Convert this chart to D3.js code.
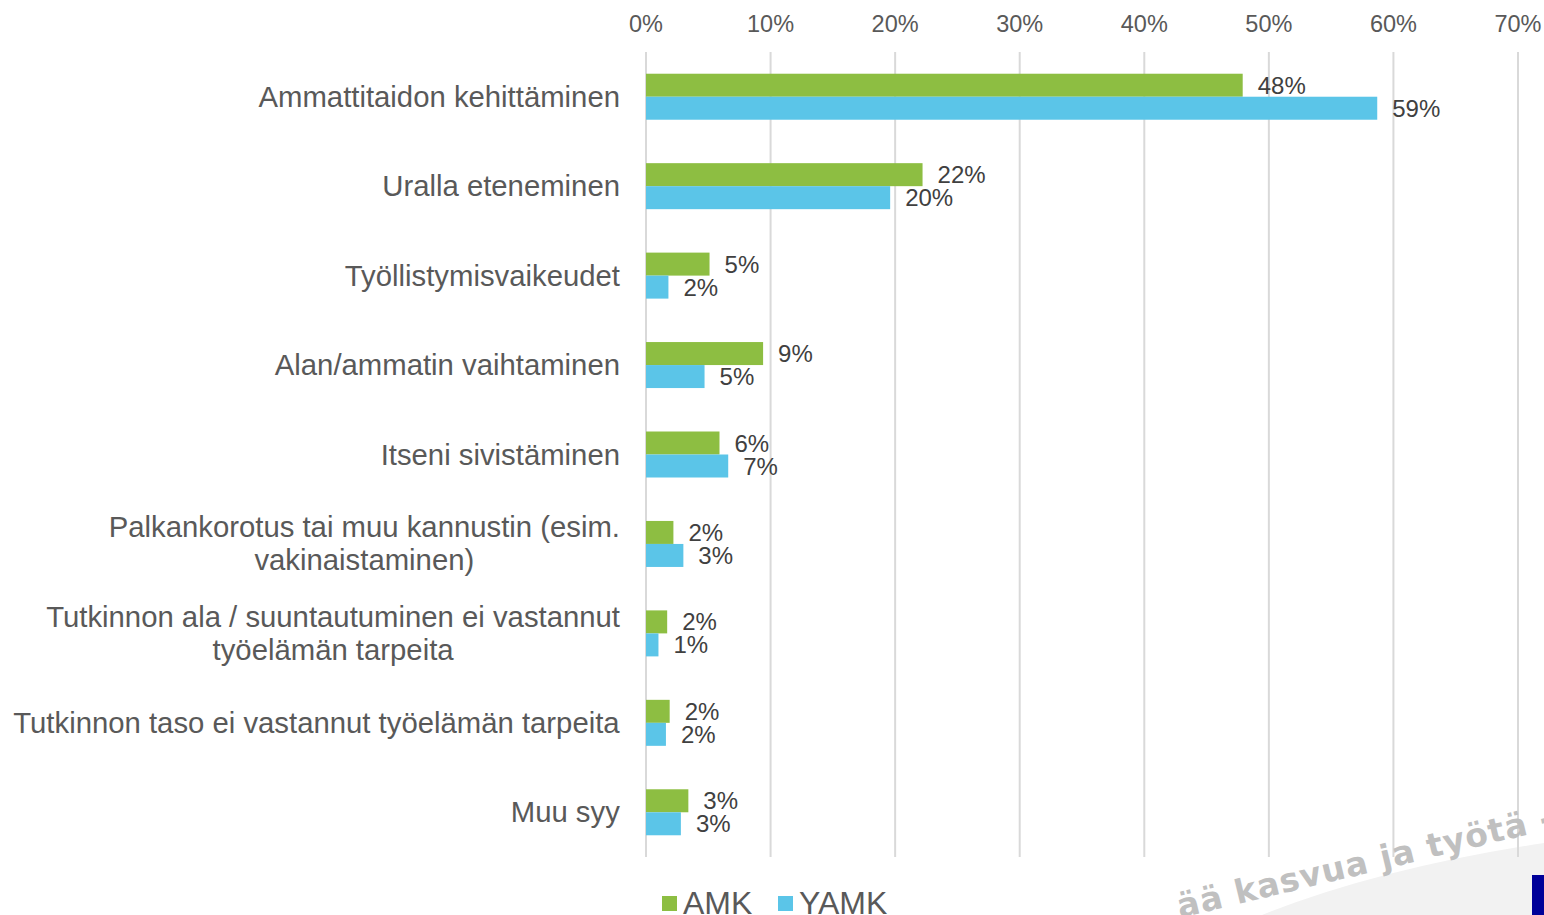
<!DOCTYPE html>
<html>
<head>
<meta charset="utf-8">
<script src="https://cdn.jsdelivr.net/npm/d3@7"></script>
<style>
body { margin: 0; background: #fff; }
svg { display: block; font-family: "Liberation Sans", Arial, sans-serif; }
</style>
</head>
<body>
<div id="chartDiv"></div>
<script>
var categories = [
    ["Ammattitaidon kehittäminen"],
    ["Uralla eteneminen"],
    ["Työllistymisvaikeudet"],
    ["Alan/ammatin vaihtaminen"],
    ["Itseni sivistäminen"],
    ["Palkankorotus tai muu kannustin (esim.", "vakinaistaminen)"],
    ["Tutkinnon ala / suuntautuminen ei vastannut", "työelämän tarpeita"],
    ["Tutkinnon taso ei vastannut työelämän tarpeita"],
    ["Muu syy"]
];
var amk  = [47.9, 22.2, 5.1, 9.4, 5.9, 2.2, 1.7, 1.9, 3.4];
var yamk = [58.7, 19.6, 1.8, 4.7, 6.6, 3.0, 1.0, 1.6, 2.8];
var ticks = [0, 10, 20, 30, 40, 50, 60, 70];
var seriesNames = ["AMK", "YAMK"];
var colors = ["#8dbe42", "#5bc5e8"];

var width = 1544, height = 915;

var svg = d3.select("#chartDiv").append("svg")
    .attr("width", width)
    .attr("height", height);

// background decoration (bottom right)
svg.append("path")
    .attr("d", "M1262,915 Q1380,868 1544,843 L1544,915 Z")
    .attr("fill", "#f2f2f2");

var x = d3.scaleLinear().domain([0, 70]).range([646, 1518]);
var y = d3.scaleBand().domain(d3.range(categories.length)).range([52, 857]);
var barH = 23;

// gridlines
svg.append("g").selectAll("line")
    .data(ticks)
    .enter().append("line")
    .attr("x1", function (d) { return x(d); })
    .attr("x2", function (d) { return x(d); })
    .attr("y1", 52)
    .attr("y2", 857)
    .attr("stroke", "#d9d9d9")
    .attr("stroke-width", 2);

// tick labels
svg.append("g").selectAll("text")
    .data(ticks)
    .enter().append("text")
    .attr("x", function (d) { return x(d); })
    .attr("y", 32)
    .attr("text-anchor", "middle")
    .attr("font-size", 23.5)
    .attr("fill", "#595959")
    .text(function (d) { return d + "%"; });

// watermark text
svg.append("text")
    .attr("transform", "translate(1180,918) rotate(-13.5)")
    .attr("font-size", 33)
    .attr("font-weight", "bold")
    .attr("font-family", "DejaVu Sans")
    .attr("letter-spacing", 1)
    .attr("fill", "#c0c0c0")
    .text("ää kasvua ja työtä -");

svg.append("rect")
    .attr("x", 1532).attr("y", 875)
    .attr("width", 12).attr("height", 40)
    .attr("fill", "#000099");

var series = [amk, yamk];
series.forEach(function (vals, s) {
    var g = svg.append("g");
    g.selectAll("rect")
        .data(vals)
        .enter().append("rect")
        .attr("x", x(0))
        .attr("y", function (d, i) { return y(i) + y.bandwidth() / 2 - barH + s * barH; })
        .attr("width", function (d) { return x(d) - x(0); })
        .attr("height", barH)
        .attr("fill", colors[s]);
    g.selectAll("text")
        .data(vals)
        .enter().append("text")
        .attr("x", function (d) { return x(d) + 15; })
        .attr("y", function (d, i) { return y(i) + y.bandwidth() / 2 - barH / 2 + s * barH + 8.5; })
        .attr("font-size", 24)
        .attr("fill", "#404040")
        .text(function (d) { return Math.round(d) + "%"; });
});

// category labels
var catG = svg.append("g");
categories.forEach(function (lines, i) {
    var t = catG.append("text")
        .attr("font-size", 29.3)
        .attr("fill", "#595959")
        .attr("text-anchor", "middle");
    var cy = y(i) + y.bandwidth() / 2;
    var lh = 33;
    lines.forEach(function (ln, k) {
        t.append("tspan")
            .attr("x", 0)
            .attr("y", cy + 10 + (k - (lines.length - 1) / 2) * lh)
            .text(ln);
    });
    var w = t.node().getBBox().width;
    t.selectAll("tspan").attr("x", 620 - w / 2);
});

// legend
var leg = svg.append("g");
var legX = [662, 778];
seriesNames.forEach(function (n, s) {
    leg.append("rect")
        .attr("x", legX[s]).attr("y", 896)
        .attr("width", 15).attr("height", 15)
        .attr("fill", colors[s]);
    leg.append("text")
        .attr("x", legX[s] + 21)
        .attr("y", 914)
        .attr("font-size", 32)
        .attr("fill", "#595959")
        .text(n);
});
</script>
</body>
</html>
